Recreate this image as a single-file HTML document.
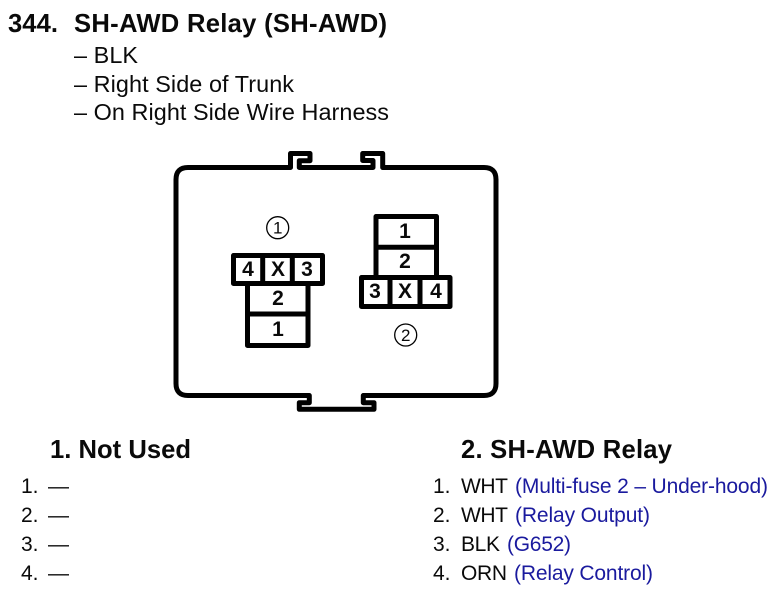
<!DOCTYPE html>
<html>
<head>
<meta charset="utf-8">
<style>
html,body{margin:0;padding:0;background:#fff;width:783px;height:607px;overflow:hidden}
svg{display:block}
text{font-family:"Liberation Sans",Arial,sans-serif;fill:#0a0a0a}
.h{font-weight:bold;font-size:25.6px}
.s{font-size:23.4px}
.t{font-size:21px}
.n{font-weight:bold;font-size:21px;text-anchor:middle}
.c{font-size:17px;text-anchor:middle}
.blue{fill:#1a1a9e}
.l{fill:none;stroke:#000;stroke-width:5;stroke-linejoin:round;stroke-linecap:round}
</style>
</head>
<body>
<svg width="783" height="607" viewBox="0 0 783 607" xmlns="http://www.w3.org/2000/svg">
<rect width="783" height="607" fill="#fff"/>

<text class="h" x="8" y="32" textLength="50">344.</text>
<text class="h" x="74" y="32" textLength="313">SH-AWD Relay (SH-AWD)</text>
<text class="s" x="74" y="63" textLength="64">– BLK</text>
<text class="s" x="74" y="92" textLength="220">– Right Side of Trunk</text>
<text class="s" x="74" y="120" textLength="315">– On Right Side Wire Harness</text>

<path class="l" d="M188 167.5H290.5V153.5H310V160.7H299.3V167.5H373V160.5H362.7V153.5H382.7V167.5H484Q496 167.5 496 179.5V383.5Q496 395.5 484 395.5H363.3V402.7H374V409.3H299.3V402.7H309.3V395.5H188Q176 395.5 176 383.5V179.5Q176 167.5 188 167.5Z"/>

<circle cx="277.7" cy="227.7" r="11" fill="none" stroke="#000" stroke-width="1.3"/>
<text class="c" x="277.7" y="233.7">1</text>
<circle cx="405.7" cy="335" r="11" fill="none" stroke="#000" stroke-width="1.3"/>
<text class="c" x="405.7" y="341">2</text>

<!-- Connector 1 -->
<path class="l" d="M233.5 255.5H322.5V283.5H233.5ZM262.7 255.5V283.5M292.3 255.5V283.5M247.5 283.5V345.5H308V283.5M247.5 314H308"/>
<text class="n" x="248" y="276">4</text>
<text class="n" x="278" y="276">X</text>
<text class="n" x="307" y="276">3</text>
<text class="n" x="278" y="305">2</text>
<text class="n" x="278" y="336">1</text>

<!-- Connector 2 -->
<path class="l" d="M376 277.5V216.5H436.5V277.5M376 247.3H436.5M361.5 277.5H450V306.5H361.5ZM390 277.5V306.5M420 277.5V306.5"/>
<text class="n" x="405" y="238">1</text>
<text class="n" x="405" y="268">2</text>
<text class="n" x="375" y="298">3</text>
<text class="n" x="405" y="298">X</text>
<text class="n" x="436" y="298">4</text>

<!-- Left list -->
<text class="h" x="50" y="458" textLength="141">1. Not Used</text>
<text class="t" x="21" y="493">1.</text><text class="t" x="48" y="493">—</text>
<text class="t" x="21" y="522">2.</text><text class="t" x="48" y="522">—</text>
<text class="t" x="21" y="551">3.</text><text class="t" x="48" y="551">—</text>
<text class="t" x="21" y="580">4.</text><text class="t" x="48" y="580">—</text>

<!-- Right list -->
<text class="h" x="461" y="458" textLength="211">2. SH-AWD Relay</text>
<text class="t" x="433" y="493">1.</text><text class="t" x="461" y="493" textLength="47">WHT</text>
<text class="t blue" x="515" y="493" textLength="253">(Multi-fuse 2 – Under-hood)</text>
<text class="t" x="433" y="522">2.</text><text class="t" x="461" y="522" textLength="47">WHT</text>
<text class="t blue" x="515" y="522" textLength="135">(Relay Output)</text>
<text class="t" x="433" y="551">3.</text><text class="t" x="461" y="551" textLength="39">BLK</text>
<text class="t blue" x="507" y="551" textLength="64">(G652)</text>
<text class="t" x="433" y="580">4.</text><text class="t" x="461" y="580" textLength="46">ORN</text>
<text class="t blue" x="514" y="580" textLength="139">(Relay Control)</text>
</svg>
</body>
</html>
